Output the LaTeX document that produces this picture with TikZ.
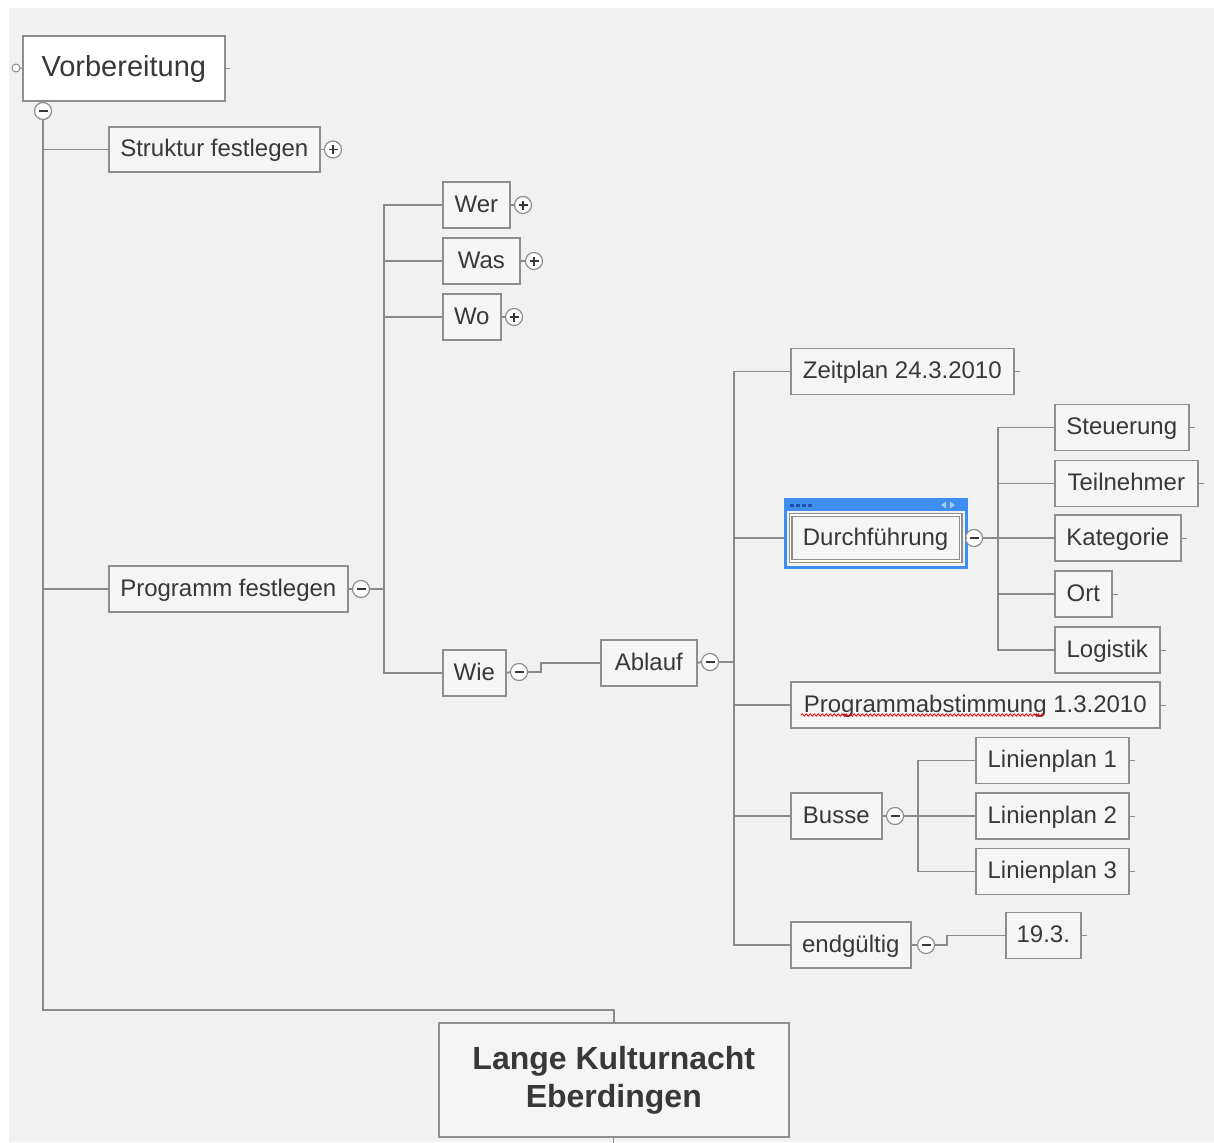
\documentclass[tikz,border=0pt]{standalone}
\usepackage{fontspec}
\setmainfont{Liberation Sans}
\usetikzlibrary{backgrounds,decorations.pathmorphing}
\definecolor{bgc}{HTML}{F1F1F1}
\definecolor{boxc}{HTML}{F5F5F5}
\definecolor{bordc}{HTML}{8E8E8E}
\definecolor{linec}{HTML}{8A8A8A}
\definecolor{txtc}{HTML}{383838}
\definecolor{selc}{HTML}{3D8EF0}
\definecolor{seldark}{HTML}{1F4FA8}
\definecolor{sellight}{HTML}{A9CCF8}
\newcommand\nfs{\fontsize{24}{28}\selectfont}
\tikzset{
  box/.style={draw=bordc, line width=1.6pt, fill=boxc, text=txtc, font=\nfs,
    minimum height=46pt, inner sep=0pt, anchor=west, text height=18pt, text depth=4pt},
  conn/.style={draw=linec, line width=1.8pt},
  trunk/.style={draw=linec, line width=2.4pt},
  tog/.style={circle, draw=bordc, fill=white, line width=1.2pt, minimum size=17pt, inner sep=0pt},
  minus/.style={tog, path picture={\draw[line width=2.2pt, txtc]
     ([xshift=-4.5pt]path picture bounding box.center) -- ([xshift=4.5pt]path picture bounding box.center);}},
  plus/.style={tog, path picture={\draw[line width=1.8pt, txtc]
     ([xshift=-4.5pt]path picture bounding box.center) -- ([xshift=4.5pt]path picture bounding box.center)
     ([yshift=-4.5pt]path picture bounding box.center) -- ([yshift=4.5pt]path picture bounding box.center);}},
}
\begin{document}
\begin{tikzpicture}[x=1pt,y=-1pt]
\useasboundingbox (0,0) rectangle (1214,1142);
% nodes
\node[box, fill=white, minimum width=202pt, minimum height=65pt, text height=22pt, text depth=6pt,
  font=\fontsize{29}{34}\selectfont] (vor) at (22,68.5) {Vorbereitung};
\node[circle, draw=bordc, fill=white, line width=1pt, minimum size=8pt, inner sep=0pt] (vorl) at (16,68) {};
\node[minus] (vort) at (43,111) {};
\node[box, minimum width=211pt, minimum height=45pt] (struk) at (108,149.5) {Struktur festlegen};
\node[plus] (strukt) at (333,149.5) {};
\node[box, minimum width=239pt] (prog) at (108,589) {Programm festlegen};
\node[minus] (progt) at (361,589) {};
\node[box, minimum width=67pt] (wer) at (442,205) {Wer};
\node[plus] (wert) at (523,205) {};
\node[box, minimum width=77pt] (was) at (442,261) {Was};
\node[plus] (wast) at (534,261) {};
\node[box, minimum width=58pt] (wo) at (442,317) {Wo};
\node[plus] (wot) at (514,317) {};
\node[box, minimum width=63pt] (wie) at (442,673) {Wie};
\node[minus] (wiet) at (519,672) {};
\node[box, minimum width=96pt] (abl) at (600,663) {Ablauf};
\node[minus] (ablt) at (710,662) {};
\node[box, minimum width=223pt] (zeit) at (790,371.5) {Zeitplan 24.3.2010};
\node[box, minimum width=170pt, double=white, double distance=1.6pt, line width=1.2pt] (durch) at (790,538) {Durchführung};
\node[minus] (durcht) at (974,538) {};
\node[box, minimum width=134pt] (steu) at (1054,427.5) {Steuerung};
\node[box, minimum width=143pt] (teil) at (1054,483.5) {Teilnehmer};
\node[box, minimum width=126pt] (kat) at (1054,538) {Kategorie};
\node[box, minimum width=57pt] (ort) at (1054,594) {Ort};
\node[box, minimum width=105pt] (log) at (1054,650) {Logistik};
\node[box, minimum width=369pt] (pabst) at (790,705) {Programmabstimmung 1.3.2010};
\node[box, minimum width=91pt] (busse) at (790,816) {Busse};
\node[minus] (busset) at (895,816) {};
\node[box, minimum width=153pt] (lpa) at (975,760.5) {Linienplan 1};
\node[box, minimum width=153pt] (lpb) at (975,816) {Linienplan 2};
\node[box, minimum width=153pt] (lpc) at (975,871.5) {Linienplan 3};
\node[box, minimum width=120pt] (endg) at (790,945) {endgültig};
\node[minus] (endgt) at (926,945) {};
\node[box, minimum width=75pt] (neunz) at (1005,935.5) {19.3.};
\node[box, minimum width=350pt, minimum height=114pt, align=center, text height=, text depth=,
  font=\fontsize{32}{38}\selectfont\bfseries] (root) at (438,1080) {Lange Kulturnacht\\Eberdingen};
% background
\begin{pgfonlayer}{background}
\fill[bgc] (9,8) rectangle (1214,1142);
\draw[selc, line width=3pt] (785,499) rectangle (966,567);
\fill[selc] (785,499) rectangle (966,511);
\foreach \dx in {0,6,12,18} \fill[seldark] (790+\dx,503.5) rectangle (793.5+\dx,507);
\fill[sellight] (941,505) -- (946,501.5) -- (946,508.5) -- cycle;
\fill[sellight] (955,505) -- (950,501.5) -- (950,508.5) -- cycle;
\end{pgfonlayer}
% connectors
\draw[conn, line width=1pt] (vorl.east) -- (vor.west);
\draw[conn, line width=1pt] (vor.east) -- ++(4,0);
\coordinate (tk) at (43,1010);
\draw[trunk] (vort.south) -- (tk) -| (root.north);
\draw[conn, line width=1pt] (root.south) -- ++(0,6);
\draw[conn] (vort.south) |- (struk.west);
\draw[conn] (vort.south) |- (prog.west);
\draw[conn] (struk.east) -- (strukt.west);
\draw[conn] (prog.east) -- (progt.west);
\draw[conn] (progt.east) -- ++(14,0) coordinate (ba);
\draw[conn] (ba) |- (wer.west);
\draw[conn] (ba) |- (was.west);
\draw[conn] (ba) |- (wo.west);
\draw[conn] (ba) |- (wie.west);
\draw[conn] (wer.east) -- (wert.west);
\draw[conn] (was.east) -- (wast.west);
\draw[conn] (wo.east) -- (wot.west);
\draw[conn] (wie.east) -- (wiet.west);
\draw[conn] (wiet.east) -- ++(13,0) |- (abl.west);
\draw[conn] (abl.east) -- (ablt.west);
\draw[trunk] (ablt.east) -- ++(15,0) coordinate (bb);
\draw[trunk] (zeit.west -| bb) -- (endg.west -| bb);
\draw[conn] (bb) |- (zeit.west);
\draw[conn] (bb) |- (endg.west);
\draw[conn] (bb) |- ([xshift=-6pt]durch.west);
\draw[conn] (bb) |- (pabst.west);
\draw[conn] (bb) |- (busse.west);
\draw[conn] ([xshift=6pt]durch.east) -- (durcht.west);
\draw[conn] (durcht.east) -- ++(15,0) coordinate (bc);
\draw[conn] (bc) |- (steu.west);
\draw[conn] (bc) |- (teil.west);
\draw[conn] (bc) |- (kat.west);
\draw[conn] (bc) |- (ort.west);
\draw[conn] (bc) |- (log.west);
\draw[conn] (busse.east) -- (busset.west);
\draw[conn] (busset.east) -- ++(14,0) coordinate (bd);
\draw[conn] (bd) |- (lpa.west);
\draw[conn] (bd) |- (lpb.west);
\draw[conn] (bd) |- (lpc.west);
\draw[conn] (endg.east) -- (endgt.west);
\draw[conn] (endgt.east) -- ++(12,0) |- (neunz.west);
\foreach \n in {zeit,steu,teil,kat,ort,log,pabst,lpa,lpb,lpc,neunz}
  \draw[conn, line width=1pt] (\n.east) -- ++(5,0);
% spell-check underline
\draw[red, line width=0.8pt, decorate, decoration={snake, amplitude=1.2pt, segment length=4pt}]
  ([xshift=11pt,yshift=-10pt]pabst.west) -- ++(243,0);
\end{tikzpicture}
\end{document}
